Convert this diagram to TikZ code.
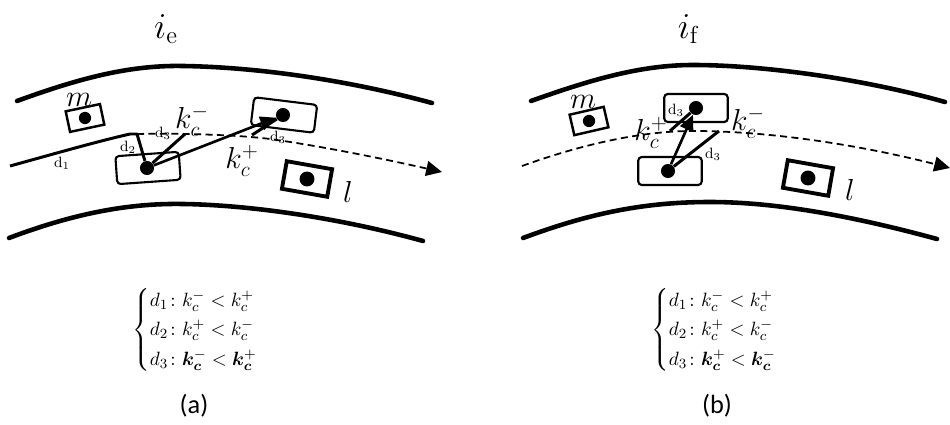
\documentclass[tikz,border=0pt]{standalone}
\usepackage{amsmath}
\usepackage{amssymb}
\usepackage{bm}
\usepackage{fontspec}
\usepackage{tikz}
\usetikzlibrary{arrows.meta, positioning, calc}
\newfontfamily\capfont{Carlito}

\begin{document}
\begin{tikzpicture}[
    x=0.02cm, y=-0.02cm,
    road/.style={line width=2.6pt, line cap=round},
    route/.style={line width=1pt, dash pattern=on 4pt off 2.5pt, -{Triangle[length=9pt, width=8.5pt, fill=black]}},
    solidroute/.style={line width=1.7pt, line join=round},
    vehicle/.style={rectangle, draw, line width=1.2pt, rounded corners=2pt, minimum width=1.27cm, minimum height=0.56cm, inner sep=0pt},
    signbox/.style={rectangle, draw, line width=#1, minimum width=0.7cm, minimum height=0.42cm, inner sep=0pt},
    centerdot/.style={circle, fill=black, inner sep=0pt, minimum size=#1},
    motion/.style={line width=1.7pt},
    motionarrow/.style={line width=1.5pt, -{Triangle[length=9pt, width=8pt, fill=black]}},
    symbol/.style={font=\fontsize{16.5}{19}\selectfont, inner sep=0pt},
    heading/.style={font=\fontsize{20}{24}\selectfont, inner sep=0pt},
    gaplabel/.style={font=\fontsize{8.5}{10}\selectfont, inner sep=0pt},
    conditions/.style={font=\fontsize{11.2}{14}\selectfont, inner sep=0pt, anchor=west},
    caption/.style={font=\capfont\fontsize{15}{18}\selectfont, inner sep=0pt}
]
    \useasboundingbox (0,0) rectangle (950,425);

    % Titles
    \node[heading] (titlea) at (166,29) {$i_{\mathrm{e}}$};
    \node[heading] (titleb) at (688,29) {$i_{\mathrm{f}}$};

    % Roads (a)
    \draw[road] (17,101) .. controls (80,78) and (130,65) .. (183,66) .. controls (250,67) and (340,78) .. (432,103);
    \draw[road] (9,238) .. controls (70,215) and (125,203) .. (183,204) .. controls (250,205) and (340,218) .. (423,241);

    % Roads (b)
    \draw[road] (531,101) .. controls (590,80) and (640,65) .. (693,65) .. controls (760,65) and (860,78) .. (945,102);
    \draw[road] (523,238) .. controls (585,215) and (640,202) .. (710,202) .. controls (780,202) and (860,218) .. (937,239);

    % Vehicles (a)
    \node[vehicle, rotate=4] (boxa1) at (148,168) {};
    \node[vehicle, rotate=-7] (boxa2) at (284,115) {};
    \node[centerdot=8pt] (dota1) at (147,168) {};
    \node[centerdot=8pt] (dota2) at (283,115) {};

    % Vehicles (b)
    \node[vehicle] (boxb1) at (670,171) {};
    \node[vehicle] (boxb2) at (696,108) {};
    \node[centerdot=8pt] (dotb1) at (668,171) {};
    \node[centerdot=8pt] (dotb2) at (696,108) {};

    % Neighbours
    \node[signbox=1.4pt, rotate=12] (mboxa) at (85,118) {};
    \node[centerdot=7pt] (mdota) at (85,118) {};
    \node[signbox=2.2pt, rotate=-10, minimum width=0.92cm, minimum height=0.56cm] (lboxa) at (307,179) {};
    \node[centerdot=8.5pt] (ldota) at (307,179) {};
    \node[signbox=1.4pt, rotate=13] (mboxb) at (589,121) {};
    \node[centerdot=7pt] (mdotb) at (589,121) {};
    \node[signbox=2.2pt, rotate=-10, minimum width=0.92cm, minimum height=0.56cm] (lboxb) at (808,178) {};
    \node[centerdot=8.5pt] (ldotb) at (808,178) {};

    % Free ends
    \coordinate (starta) at (10,166);
    \coordinate (turna) at (137,134);
    \coordinate (enda) at (442,172);
    \coordinate (minusa) at (185,134);
    \coordinate (plusa) at (252,135);
    \coordinate (startb) at (522,166);
    \coordinate (endb) at (950,168);
    \coordinate (plusb) at (670,131);
    \coordinate (minusb) at (719,131);

    % Trajectories
    \draw[solidroute] (starta) .. controls (50,155) and (95,142) .. (130,134) -- (turna) -- (dota1);
    \draw[route] (turna) .. controls (180,133) and (240,135) .. (270,139) .. controls (320,146) and (380,158) .. (enda);
    \draw[route] (startb) .. controls (580,145) and (640,131) .. (693,131) .. controls (770,131) and (860,145) .. (endb);

    % Motion vectors
    \draw[motion] (dota1) -- (minusa);
    \draw[motionarrow] (dota1) -- (dota2);
    \draw[motion] (plusa) -- (dota2);
    \draw[motion] (dotb1) -- (minusb);
    \draw[motionarrow] (dotb1) -- (dotb2);
    \draw[motion] (plusb) -- (dotb2);

    % Labels (a)
    \node[symbol] (labelma) at (79,100) {$m$};
    \node[symbol] (labella) at (348,192) {$l$};
    \node[symbol] (kminusa) at (192,121) {$k_c^-$};
    \node[symbol] (kplusa) at (242,161) {$k_c^+$};
    \node[gaplabel] (d1a) at (62,163) {d$_1$};
    \node[gaplabel] (d2a) at (128,147) {d$_2$};
    \node[gaplabel] (d3a) at (163,133) {d$_3$};
    \node[gaplabel] (d3c) at (278,137) {d$_3$};

    % Labels (b)
    \node[symbol] (labelmb) at (583,102) {$m$};
    \node[symbol] (labellb) at (850,190) {$l$};
    \node[symbol] (kplusb) at (651,133) {$k_c^+$};
    \node[symbol] (kminusb) at (748,123) {$k_c^-$};
    \node[gaplabel] (d3b) at (676,110) {d$_3$};
    \node[gaplabel] (d3d) at (713,154) {d$_3$};

    % Conditions
    \node[conditions] (condsa) at (132,330) {$\begin{cases} d_1\colon k_c^- < k_c^+ \\ d_2\colon k_c^+ < k_c^- \\ d_3\colon \bm{k}_{\bm{c}}^{-} < \bm{k}_{\bm{c}}^{+} \end{cases}$};
    \node[conditions] (condsb) at (651,330) {$\begin{cases} d_1\colon k_c^- < k_c^+ \\ d_2\colon k_c^+ < k_c^- \\ d_3\colon \bm{k}_{\bm{c}}^{+} < \bm{k}_{\bm{c}}^{-} \end{cases}$};

    % Captions
    \node[caption] (capa) at (194,406) {(a)};
    \node[caption] (capb) at (717,406) {(b)};
\end{tikzpicture}
\end{document}
